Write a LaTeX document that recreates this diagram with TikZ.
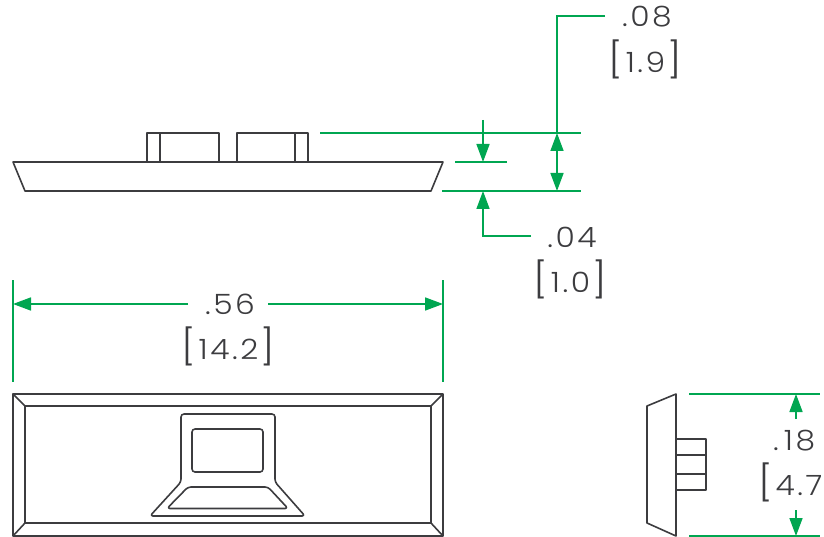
\documentclass[tikz,border=0pt]{standalone}
\usepackage{fontspec}
\setmainfont{Poppins Light}[LetterSpace=9,FakeStretch=1.12]
\usepackage{tikz}
\usetikzlibrary{arrows.meta}
\definecolor{dimgreen}{HTML}{00A651}
\definecolor{partgray}{HTML}{3C3C3F}
\tikzset{
  part/.style={draw=partgray,line width=1.6pt,line join=round},
  partrnd/.style={part,rounded corners=3pt},
  dimline/.style={draw=dimgreen,line width=1.6pt},
  dimtip/.style={dimline,-{Triangle[length=18pt,width=13pt]}},
  dimboth/.style={dimline,{Triangle[length=18pt,width=13pt]}-{Triangle[length=18pt,width=13pt]}},
  dimtext/.style={text=partgray,inner sep=0pt,font=\fontsize{28}{28}\selectfont},
}
\newcommand{\brk}[1]{{\fontsize{35}{35}\selectfont[}\kern3pt#1\kern2pt{\fontsize{35}{35}\selectfont]}}
\begin{document}
\begin{tikzpicture}[x=1pt,y=-1pt]
\useasboundingbox (0,0) rectangle (824,537);
% side view
\draw[part] (13,162) -- (443,162) -- (431,191) -- (25,191) -- cycle;
\draw[part,line width=2.2pt] (152,191) -- (302,191);
\draw[part] (147,162) -- (147,133) -- (219,133) -- (219,162);
\draw[part] (160,133) -- (160,162);
\draw[part] (237,162) -- (237,133) -- (308,133) -- (308,162);
\draw[part] (295,133) -- (295,162);
% front view
\draw[part] (13,394) rectangle (443,536);
\draw[part] (25,406) rectangle (431,523);
\draw[part] (13,394) -- (25,406);
\draw[part] (443,394) -- (431,406);
\draw[part] (13,536) -- (25,523);
\draw[part] (443,536) -- (431,523);
\draw[partrnd] (181,482) -- (181,414) -- (275,414) -- (275,482) -- (305,516) -- (150,516) -- cycle;
\draw[partrnd] (192,429) rectangle (263,472);
\draw[partrnd] (188,487) -- (268,487) -- (288,508.5) -- (167,508.5) -- cycle;
% end view
\draw[part] (647,406) -- (676,394) -- (676,536) -- (647,523) -- cycle;
\draw[part,line width=2.2pt] (647,420) -- (647,515);
\draw[part] (676,439) -- (706,439) -- (706,490) -- (676,490);
\draw[part] (676,455) -- (706,455);
\draw[part] (676,474) -- (706,474);
% labels
\node[dimtext] (t08) at (647,17) {.08};
\node[dimtext] (m08) at (645,59) {\brk{1.9}};
\node[dimtext] (t04) at (572,237) {.04};
\node[dimtext] (m04) at (570,279) {\brk{1.0}};
\node[dimtext] (t56) at (230,304) {.56};
\node[dimtext] (m56) at (228,346) {\brk{14.2}};
\node[dimtext,anchor=west] (t18) at (773,441) {.\kern5pt18};
\node[dimtext,anchor=west] (m18) at (758,482) {\brk{4.7}};
% dimension lines
\coordinate (a08) at (605,16);
\coordinate (b08) at (557,16);
\coordinate (c08) at (557,133);
\coordinate (d08) at (557,191);
\draw[dimline] (a08) -- (b08) -- (c08);
\draw[dimboth] (c08) -- (d08);
\draw[dimline] (320,133) -- (581,133);
\draw[dimline] (442,191) -- (581,191);
\draw[dimline] (455,162) -- (507,162);
\coordinate (a04) at (483,120);
\coordinate (b04) at (483,162);
\coordinate (c04) at (531,236);
\coordinate (d04) at (483,236);
\coordinate (e04) at (483,191);
\draw[dimtip] (a04) -- (b04);
\draw[dimtip] (c04) -- (d04) -- (e04);
\coordinate (l56) at (13,304);
\coordinate (r56) at (443,304);
\coordinate (a56) at (188,304);
\coordinate (b56) at (268,304);
\draw[dimline] (13,280) -- (13,382);
\draw[dimline] (443,280) -- (443,382);
\draw[dimtip] (a56) -- (l56);
\draw[dimtip] (b56) -- (r56);
\coordinate (a18) at (796,419);
\coordinate (b18) at (796,394);
\coordinate (c18) at (796,510);
\coordinate (d18) at (796,536);
\draw[dimline] (689,394) -- (820,394);
\draw[dimline] (689,536) -- (820,536);
\draw[dimtip] (a18) -- (b18);
\draw[dimtip] (c18) -- (d18);
\end{tikzpicture}
\end{document}
